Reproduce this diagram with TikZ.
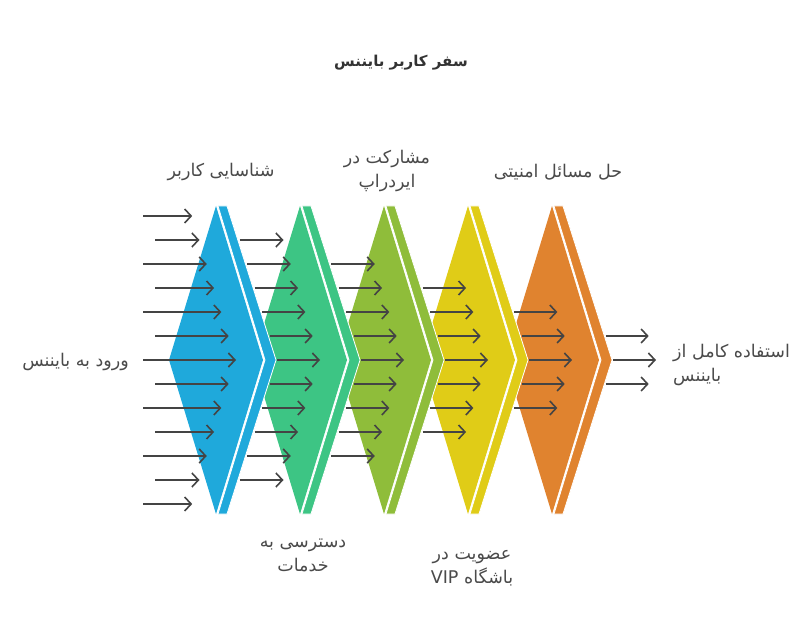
\documentclass[tikz,border=0pt]{standalone}
\usepackage{fontspec}
\usetikzlibrary{arrows.meta}
\TeXXeTstate=1
\newfontfamily\fafont[Script=Arabic]{DejaVu Sans}
\newcommand{\fa}[1]{\beginR #1\endR}

\definecolor{cblue}{HTML}{1FA9DB}
\definecolor{cgreen}{HTML}{3DC584}
\definecolor{clime}{HTML}{8FBD3A}
\definecolor{cyellow}{HTML}{E0CC17}
\definecolor{corange}{HTML}{E0832F}
\definecolor{agray}{HTML}{444444}
\definecolor{tgray}{HTML}{4A4A4A}

\begin{document}
\begin{tikzpicture}[x=1pt, y=-1pt,
    every node/.style={font=\fafont\fontsize{17.5}{24}\selectfont, text=tgray, inner sep=0pt},
    flow/.style={draw=agray, line width=1.6pt, -{Straight Barb[length=6.5pt, width=14pt, line width=1.6pt]}}]
  \useasboundingbox (0,0) rectangle (804,636);
  \def\T{206} % top of the chevrons
  \def\B{514} % bottom of the chevrons
  \def\M{360} % middle row

  % chevrons, last one first so the earlier ones lie on top
  \foreach \i/\c in {4/corange, 3/cyellow, 2/clime, 1/cgreen, 0/cblue}{
    \pgfmathsetmacro\cx{216+84*\i}
    \fill[white] (\cx,\T) -- (\cx+11,\T) -- (\cx+60,\M) -- (\cx+11,\B) -- (\cx,\B) -- (\cx-47,\M) -- cycle;
    \fill[\c] (\cx,\T) -- (\cx+47,\M) -- (\cx,\B) -- (\cx-47,\M) -- cycle;
    \filldraw[fill=\c, draw=white, line width=0.8pt]
      (\cx+2,\T) -- (\cx+11,\T) -- (\cx+60,\M) -- (\cx+11,\B) -- (\cx+2,\B) -- (\cx+49,\M) -- cycle;
  }

  % arrows, two fewer after every stage
  \foreach \j in {0,...,5}{
    \pgfmathtruncatemacro\n{6-\j}
    \foreach \k in {-\n,...,\n}{
      \pgfmathsetmacro\y{\M+24*\k}
      \pgfmathsetmacro\xe{236+84*\j-7.3*abs(\k)}
      \ifnum\j=0
        \pgfmathsetmacro\xs{mod(abs(\k),2)==1 ? 155 : 143}
      \else
        \pgfmathsetmacro\xs{193+84*\j-7.5*abs(\k)}
      \fi
      \draw[flow] (\xs,\y) -- (\xe,\y);
    }
  }

  % title and labels
  \node[font=\fafont\bfseries\fontsize{15}{18}\selectfont, text=black!80] (title) at (401,63) {\fa{سفر کاربر بایننس}};
  \node[anchor=east] (entry) at (129,362) {\fa{ورود به بایننس}};
  \node (identity) at (221,172) {\fa{شناسایی کاربر}};
  \node[align=center] (airdrop) at (387,171) {\fa{مشارکت در}\\\fa{ایردراپ}};
  \node (security) at (558,172) {\fa{حل مسائل امنیتی}};
  \node[align=center] (services) at (303,555) {\fa{دسترسی به}\\\fa{خدمات}};
  \node[align=center] (vip) at (472,568) {\fa{عضویت در}\\\fa{باشگاه \beginL VIP\endL}};
  \node[anchor=west, align=left] (fulluse) at (673,365) {\fa{استفاده کامل از}\\\fa{بایننس}};
\end{tikzpicture}
\end{document}
